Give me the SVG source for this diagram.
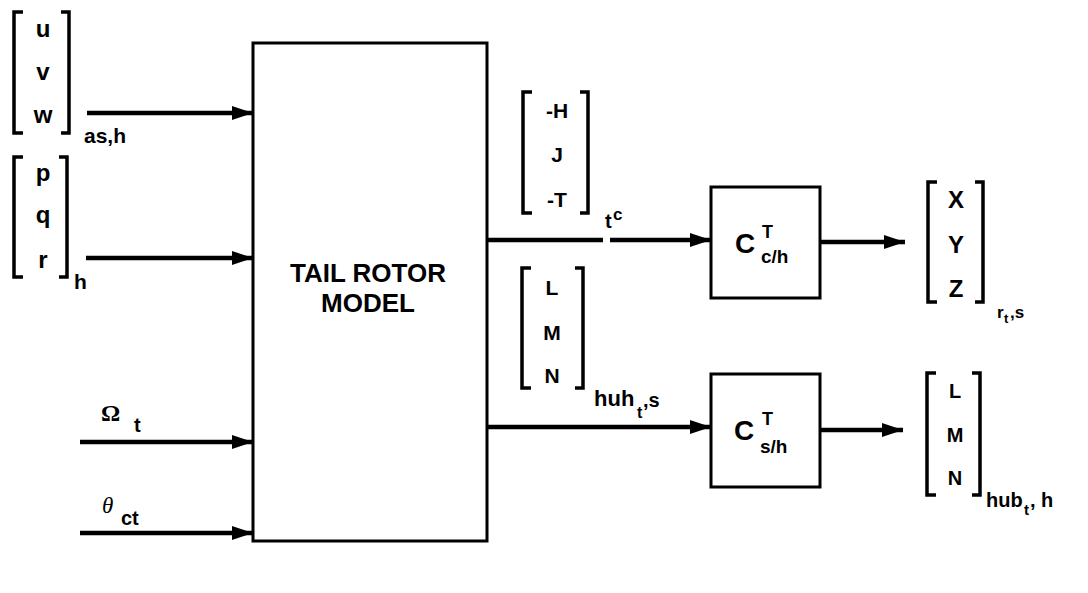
<svg xmlns="http://www.w3.org/2000/svg" width="1088" height="593" viewBox="0 0 1088 593">
<defs>
<style>
.t{font-family:"Liberation Sans",Arial,sans-serif;font-weight:bold;fill:#000}
.s{font-family:"Liberation Serif","Times New Roman",serif;fill:#000}
.br{fill:none;stroke:#000;stroke-width:3.5;stroke-linejoin:miter}
.box{fill:#fff;stroke:#000;stroke-width:3}
.ln{fill:none;stroke:#000;stroke-width:4.5}
.ar{fill:none;stroke:#000;stroke-width:4.5;marker-end:url(#ah)}
</style>
<marker id="ah" markerUnits="userSpaceOnUse" markerWidth="22" markerHeight="16" refX="21" refY="8" orient="auto">
<path d="M0,1 L21,8 L0,15 z" fill="#000"/>
</marker>
</defs>
<rect width="1088" height="593" fill="#fff"/>

<g id="connectors">
<line class="ar" x1="87" y1="113" x2="253" y2="113"/>
<line class="ar" x1="86" y1="258" x2="253" y2="258"/>
<line class="ar" x1="80" y1="442" x2="253" y2="442"/>
<line class="ar" x1="80" y1="533" x2="253" y2="533"/>
<line class="ln" x1="487" y1="240" x2="603" y2="240"/>
<line class="ar" x1="610" y1="240" x2="711" y2="240"/>
<line class="ar" x1="487" y1="427" x2="711" y2="427"/>
<line class="ar" x1="820" y1="242" x2="905" y2="242"/>
<line class="ar" x1="820" y1="430" x2="903" y2="430"/>
</g>

<g id="vel-input">
<path class="br" d="M23,12 H14 V133 H23"/>
<path class="br" d="M61,12 H69 V133 H61"/>
<text class="t" x="43" y="37" font-size="24" text-anchor="middle">u</text>
<text class="t" x="43" y="80" font-size="24" text-anchor="middle">v</text>
<text class="t" x="43" y="123" font-size="24" text-anchor="middle">w</text>
<text class="t" x="84" y="143" font-size="21">as,h</text>
</g>

<g id="rate-input">
<path class="br" d="M23,157 H14 V277 H23"/>
<path class="br" d="M59,157 H67 V277 H59"/>
<text class="t" x="43" y="181" font-size="24" text-anchor="middle">p</text>
<text class="t" x="43" y="223" font-size="24" text-anchor="middle">q</text>
<text class="t" x="43" y="268" font-size="24" text-anchor="middle">r</text>
<text class="t" x="74" y="289" font-size="21">h</text>
</g>

<g id="omega-input">
<text class="s" x="101" y="421" font-size="24" font-weight="bold">Ω</text>
<text class="t" x="134" y="432" font-size="20">t</text>
</g>

<g id="theta-input">
<text class="s" x="102" y="513" font-size="23" font-style="italic">θ</text>
<text class="t" x="121" y="525" font-size="20">ct</text>
</g>

<g id="tail-rotor-model">
<rect class="box" x="253" y="43" width="234" height="498"/>
<text class="t" x="368" y="282" font-size="26" text-anchor="middle">TAIL ROTOR</text>
<text class="t" x="368" y="312" font-size="26" text-anchor="middle">MODEL</text>
</g>

<g id="force-output">
<path class="br" d="M532,92 H523 V213 H532"/>
<path class="br" d="M580,92 H588 V213 H580"/>
<text class="t" x="557" y="118" font-size="21" text-anchor="middle">-H</text>
<text class="t" x="557" y="162" font-size="21" text-anchor="middle">J</text>
<text class="t" x="557" y="207" font-size="21" text-anchor="middle">-T</text>
<text class="t" x="605" y="228" font-size="20">t</text>
<text class="t" x="613" y="220" font-size="17">c</text>
</g>

<g id="moment-output">
<path class="br" d="M531,268 H522 V388 H531"/>
<path class="br" d="M575,268 H583 V388 H575"/>
<text class="t" x="552" y="295" font-size="21" text-anchor="middle">L</text>
<text class="t" x="552" y="340" font-size="21" text-anchor="middle">M</text>
<text class="t" x="552" y="383" font-size="21" text-anchor="middle">N</text>
<text class="t" x="594" y="406" font-size="22">huh</text>
<text class="t" x="637" y="418" font-size="16">t</text>
<text class="t" x="643" y="407" font-size="20">,s</text>
</g>

<g id="transform-c">
<rect class="box" x="711" y="187" width="109" height="111"/>
<text class="t" x="735" y="253" font-size="28">C</text>
<text class="t" x="762" y="238" font-size="18">T</text>
<text class="t" x="761" y="263" font-size="19">c/h</text>
</g>

<g id="transform-s">
<rect class="box" x="711" y="374" width="109" height="113"/>
<text class="t" x="734" y="440" font-size="28">C</text>
<text class="t" x="762" y="425" font-size="18">T</text>
<text class="t" x="760" y="453" font-size="19">s/h</text>
</g>

<g id="xyz-result">
<path class="br" d="M937,182 H928 V302 H937"/>
<path class="br" d="M975,182 H983 V302 H975"/>
<text class="t" x="956" y="208" font-size="24" text-anchor="middle">X</text>
<text class="t" x="956" y="253" font-size="24" text-anchor="middle">Y</text>
<text class="t" x="956" y="297" font-size="24" text-anchor="middle">Z</text>
<text class="t" x="997" y="318" font-size="17">r</text>
<text class="t" x="1004" y="323" font-size="13">t</text>
<text class="t" x="1010" y="318" font-size="17">,s</text>
</g>

<g id="lmn-result">
<path class="br" d="M936,373 H927 V495 H936"/>
<path class="br" d="M972,373 H980 V495 H972"/>
<text class="t" x="955" y="398" font-size="20" text-anchor="middle">L</text>
<text class="t" x="955" y="442" font-size="20" text-anchor="middle">M</text>
<text class="t" x="955" y="485" font-size="20" text-anchor="middle">N</text>
<text class="t" x="986" y="507" font-size="20">hub</text>
<text class="t" x="1024" y="515" font-size="15">t</text>
<text class="t" x="1030" y="507" font-size="20">, h</text>
</g>
</svg>
